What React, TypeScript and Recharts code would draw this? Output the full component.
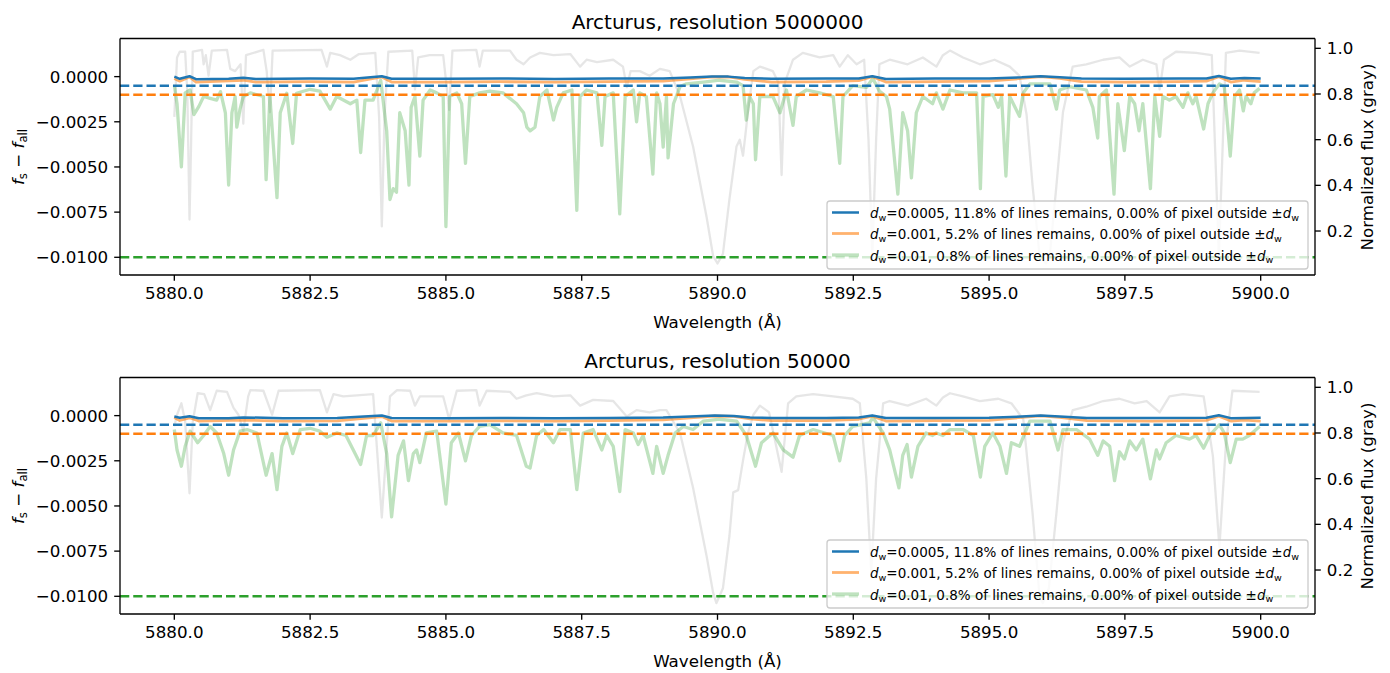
import { LineChart, Line, XAxis, YAxis, ReferenceLine } from "recharts";

type Pt = [number, number];

const xTicks = [5880, 5882.5, 5885, 5887.5, 5890, 5892.5, 5895, 5897.5, 5900];
const leftTicks = [-0.01, -0.0075, -0.005, -0.0025, 0];
const rightTicks = [0.2, 0.4, 0.6, 0.8, 1.0];
const dwLevels = [0.0005, 0.001, 0.01];
const lineShares = ["11.8%", "5.2%", "0.8%"];
const pixelOutside = ["0.00%", "0.00%", "0.00%"];
const resolutions = ["5000000", "50000"];

// normalized flux (gray), resolution 5000000
const topGray: Pt[] = [
  [5880.0, 0.7], [5880.05, 0.96], [5880.1, 0.985], [5880.2, 0.985], [5880.24, 0.8], [5880.28, 0.25], [5880.31, 0.6],
  [5880.34, 0.985], [5880.51, 0.993], [5880.54, 0.93], [5880.58, 0.97], [5880.63, 0.88], [5880.69, 0.99], [5880.97, 0.993],
  [5881.03, 0.91], [5881.12, 0.9], [5881.22, 0.93], [5881.27, 0.67], [5881.32, 0.97], [5881.64, 0.993], [5881.7, 0.9],
  [5881.76, 0.72], [5881.81, 0.99], [5882.71, 0.993], [5882.81, 0.92], [5882.87, 0.98], [5883.05, 0.97], [5883.24, 0.95],
  [5883.4, 0.975], [5883.7, 0.98], [5883.77, 0.7], [5883.82, 0.22], [5883.87, 0.7], [5883.94, 0.985], [5884.38, 0.99],
  [5884.43, 0.82], [5884.49, 0.96], [5884.7, 0.97], [5884.95, 0.97], [5885.06, 0.73], [5885.12, 0.99], [5885.56, 0.993],
  [5885.62, 0.92], [5885.68, 0.99], [5886.18, 0.99], [5886.3, 0.95], [5886.43, 0.93], [5886.55, 0.96], [5886.73, 0.98],
  [5886.98, 0.97], [5887.29, 0.975], [5887.47, 0.92], [5887.59, 0.95], [5887.78, 0.94], [5888.08, 0.95], [5888.26, 0.92],
  [5888.33, 0.83], [5888.4, 0.9], [5888.57, 0.9], [5888.75, 0.88], [5888.94, 0.91], [5889.12, 0.9], [5889.31, 0.79],
  [5889.55, 0.57], [5889.8, 0.26], [5889.92, 0.09], [5890.0, 0.058], [5890.1, 0.1], [5890.22, 0.34], [5890.35, 0.57],
  [5890.41, 0.6], [5890.47, 0.53], [5890.56, 0.72], [5890.66, 0.9], [5890.78, 0.92], [5891.02, 0.9], [5891.12, 0.85],
  [5891.18, 0.445], [5891.24, 0.85], [5891.39, 0.95], [5891.57, 0.98], [5891.88, 0.96], [5892.13, 0.97], [5892.25, 0.92],
  [5892.4, 0.97], [5892.56, 0.93], [5892.7, 0.95], [5892.78, 0.6], [5892.85, 0.088], [5892.92, 0.6], [5892.98, 0.93],
  [5893.17, 0.95], [5893.5, 0.93], [5893.78, 0.96], [5894.03, 0.92], [5894.15, 0.97], [5894.28, 0.99], [5894.52, 0.96],
  [5894.83, 0.93], [5895.1, 0.95], [5895.38, 0.92], [5895.56, 0.88], [5895.69, 0.71], [5895.8, 0.4], [5895.93, 0.09],
  [5896.05, 0.058], [5896.12, 0.1], [5896.24, 0.4], [5896.36, 0.72], [5896.54, 0.92], [5896.79, 0.93], [5897.1, 0.95],
  [5897.4, 0.96], [5897.59, 0.92], [5897.83, 0.95], [5898.08, 0.93], [5898.14, 0.82], [5898.22, 0.95], [5898.44, 0.985],
  [5898.81, 0.98], [5899.1, 0.97], [5899.17, 0.5], [5899.23, 0.09], [5899.29, 0.5], [5899.36, 0.98], [5899.61, 0.99],
  [5899.98, 0.98],
];

// d_w = 0.01, resolution 5000000
const topGreen: Pt[] = [
  [5880.0, -0.00046], [5880.05, -0.0015], [5880.13, -0.005], [5880.2, -0.0009], [5880.29, -0.00074], [5880.36, -0.0021],
  [5880.45, -0.00166], [5880.54, -0.0011], [5880.66, -0.0012], [5880.78, -0.0013], [5880.85, -0.00083], [5880.94, -0.002],
  [5881.0, -0.006], [5881.06, -0.002], [5881.12, -0.0011], [5881.15, -0.0028], [5881.21, -0.0018], [5881.27, -0.0011],
  [5881.4, -0.0009], [5881.64, -0.0011], [5881.69, -0.0057], [5881.76, -0.0011], [5881.89, -0.0067], [5881.95, -0.002],
  [5882.07, -0.00092], [5882.18, -0.0037], [5882.25, -0.00092], [5882.5, -0.0007], [5882.68, -0.0008], [5882.87, -0.0018],
  [5882.99, -0.0011], [5883.24, -0.0015], [5883.36, -0.0013], [5883.43, -0.0042], [5883.51, -0.0013], [5883.66, -0.0013],
  [5883.8, -0.0002], [5883.91, -0.003], [5883.97, -0.0068], [5884.03, -0.0062], [5884.09, -0.0064], [5884.15, -0.002],
  [5884.25, -0.003], [5884.32, -0.006], [5884.36, -0.0017], [5884.43, -0.0011], [5884.52, -0.0044], [5884.58, -0.0013],
  [5884.71, -0.00074], [5884.83, -0.0009], [5884.95, -0.0011], [5885.0, -0.0083], [5885.07, -0.0011], [5885.2, -0.0009],
  [5885.29, -0.0015], [5885.36, -0.0048], [5885.44, -0.0011], [5885.62, -0.0009], [5885.81, -0.0008], [5886.05, -0.0009],
  [5886.3, -0.0015], [5886.43, -0.002], [5886.49, -0.0028], [5886.55, -0.003], [5886.64, -0.0028], [5886.73, -0.0011],
  [5886.86, -0.00074], [5886.98, -0.0024], [5887.04, -0.0017], [5887.16, -0.0009], [5887.32, -0.00074], [5887.41, -0.0074],
  [5887.47, -0.0011], [5887.59, -0.00074], [5887.78, -0.0009], [5887.87, -0.0038], [5887.93, -0.0011], [5888.08, -0.0009],
  [5888.2, -0.0076], [5888.3, -0.0011], [5888.45, -0.00074], [5888.51, -0.0025], [5888.57, -0.0009], [5888.69, -0.0011],
  [5888.81, -0.0054], [5888.88, -0.0009], [5888.94, -0.0015], [5889.0, -0.0039], [5889.06, -0.0011], [5889.09, -0.0045],
  [5889.19, -0.0015], [5889.31, -0.00055], [5889.43, -0.0004], [5889.74, -0.0003], [5890.04, -0.0002], [5890.35, -0.0003],
  [5890.47, -0.0005], [5890.53, -0.0024], [5890.59, -0.0011], [5890.66, -0.0015], [5890.7, -0.0046], [5890.78, -0.0011],
  [5891.02, -0.0011], [5891.15, -0.002], [5891.27, -0.00074], [5891.39, -0.0027], [5891.45, -0.0011], [5891.64, -0.00074],
  [5891.88, -0.0009], [5892.13, -0.0011], [5892.25, -0.0048], [5892.31, -0.0011], [5892.49, -0.0005], [5892.74, -0.0006],
  [5892.86, -0.0001], [5892.98, -0.0008], [5893.11, -0.0011], [5893.17, -0.0018], [5893.32, -0.0065], [5893.41, -0.002],
  [5893.5, -0.003], [5893.57, -0.0056], [5893.66, -0.002], [5893.78, -0.0011], [5893.96, -0.0015], [5894.03, -0.0009],
  [5894.15, -0.0018], [5894.28, -0.00074], [5894.52, -0.0009], [5894.77, -0.0009], [5894.84, -0.0062], [5894.89, -0.0011],
  [5895.07, -0.001], [5895.17, -0.0017], [5895.23, -0.0011], [5895.31, -0.0055], [5895.38, -0.0011], [5895.56, -0.0022],
  [5895.63, -0.0009], [5895.75, -0.0004], [5896.12, -0.0004], [5896.24, -0.0018], [5896.3, -0.00074], [5896.48, -0.00055],
  [5896.79, -0.00074], [5896.91, -0.0017], [5897.0, -0.0034], [5897.03, -0.0011], [5897.16, -0.00074], [5897.3, -0.0065],
  [5897.37, -0.0015], [5897.49, -0.0041], [5897.59, -0.0011], [5897.68, -0.0015], [5897.76, -0.003], [5897.83, -0.0015],
  [5897.97, -0.0062], [5898.05, -0.0011], [5898.14, -0.0033], [5898.2, -0.0011], [5898.32, -0.0013], [5898.44, -0.0011],
  [5898.57, -0.0017], [5898.66, -0.0009], [5898.75, -0.0015], [5898.81, -0.0011], [5898.95, -0.0029], [5899.03, -0.0015],
  [5899.12, -0.0009], [5899.24, -0.0004], [5899.33, -0.00055], [5899.44, -0.0044], [5899.52, -0.0011], [5899.61, -0.00074],
  [5899.68, -0.0019], [5899.73, -0.0011], [5899.82, -0.0015], [5899.88, -0.0009], [5899.98, -0.00065],
];

// d_w = 0.001, resolution 5000000
const topOrange: Pt[] = [
  [5880.0, -0.0001], [5880.1, -0.00025], [5880.28, -0.00002], [5880.4, -0.0003], [5881.27, -0.0002], [5881.5, -0.0003],
  [5882.5, -0.00028], [5883.3, -0.0003], [5883.82, -0.00002], [5884.0, -0.0003], [5885.0, -0.0003], [5886.0, -0.00028],
  [5887.0, -0.0003], [5888.0, -0.00028], [5889.0, -0.00025], [5889.5, -0.00012], [5889.9, -0.00001], [5890.2, -0.00002],
  [5890.5, -0.00015], [5891.0, -0.0003], [5892.0, -0.00028], [5892.6, -0.00022], [5892.85, 0.0], [5893.1, -0.0003],
  [5894.0, -0.00028], [5895.0, -0.00025], [5895.6, -0.0001], [5895.95, 0.0], [5896.3, -0.0001], [5896.7, -0.00028],
  [5897.5, -0.0003], [5898.5, -0.00028], [5899.0, -0.00025], [5899.23, 0.0], [5899.45, -0.0003], [5899.7, -0.0002],
  [5900.0, -0.00028],
];

// d_w = 0.0005, resolution 5000000
const topBlue: Pt[] = [
  [5880.0, 0.0], [5880.1, -0.00012], [5880.28, 0.00002], [5880.4, -0.00014], [5881.0, -0.00012], [5881.27, -0.00006],
  [5881.5, -0.00013], [5882.5, -0.00011], [5883.3, -0.00012], [5883.82, 0.00002], [5884.0, -0.00012], [5885.0, -0.00012],
  [5886.0, -0.0001], [5887.0, -0.00013], [5888.0, -0.00011], [5889.0, -0.0001], [5889.5, -0.00005], [5889.9, 0.00001],
  [5890.2, 0.0], [5890.5, -0.00008], [5891.0, -0.00012], [5892.0, -0.00011], [5892.6, -0.0001], [5892.85, 0.00002],
  [5893.1, -0.00013], [5894.0, -0.00011], [5895.0, -0.0001], [5895.6, -0.00004], [5895.95, 0.00002], [5896.3, -0.00004],
  [5896.7, -0.00011], [5897.5, -0.00012], [5898.5, -0.00011], [5899.0, -0.0001], [5899.23, 0.00003], [5899.45, -0.00012],
  [5899.7, -0.00008], [5900.0, -0.0001],
];

// normalized flux (gray), resolution 50000
const botGray: Pt[] = [
  [5880.0, 0.83], [5880.05, 0.88], [5880.13, 0.93], [5880.2, 0.85], [5880.28, 0.536], [5880.34, 0.85], [5880.43, 0.974],
  [5880.55, 0.97], [5880.66, 0.9], [5880.78, 0.985], [5880.97, 0.98], [5881.09, 0.91], [5881.18, 0.88], [5881.27, 0.81],
  [5881.36, 0.96], [5881.4, 0.988], [5881.64, 0.985], [5881.8, 0.88], [5881.92, 0.985], [5882.68, 0.988], [5882.81, 0.89],
  [5882.93, 0.97], [5883.11, 0.96], [5883.36, 0.965], [5883.66, 0.97], [5883.82, 0.43], [5883.97, 0.96], [5884.1, 0.988],
  [5884.34, 0.985], [5884.43, 0.92], [5884.52, 0.96], [5884.95, 0.96], [5885.06, 0.86], [5885.2, 0.985], [5885.56, 0.988],
  [5885.62, 0.92], [5885.75, 0.985], [5886.18, 0.98], [5886.3, 0.95], [5886.48, 0.965], [5886.67, 0.975], [5886.98, 0.96],
  [5887.29, 0.965], [5887.47, 0.92], [5887.71, 0.945], [5888.08, 0.94], [5888.33, 0.872], [5888.51, 0.9], [5888.75, 0.89],
  [5888.94, 0.9], [5889.06, 0.9], [5889.31, 0.8], [5889.55, 0.56], [5889.8, 0.26], [5889.92, 0.1], [5889.98, 0.055],
  [5890.1, 0.12], [5890.22, 0.35], [5890.29, 0.54], [5890.38, 0.55], [5890.47, 0.68], [5890.56, 0.8], [5890.66, 0.88],
  [5890.78, 0.92], [5890.95, 0.89], [5891.18, 0.63], [5891.3, 0.93], [5891.45, 0.96], [5891.76, 0.97], [5892.13, 0.96],
  [5892.49, 0.95], [5892.62, 0.93], [5892.74, 0.6], [5892.83, 0.19], [5892.92, 0.6], [5893.05, 0.93], [5893.17, 0.94],
  [5893.5, 0.92], [5893.84, 0.95], [5894.03, 0.92], [5894.15, 0.955], [5894.28, 0.974], [5894.52, 0.96], [5894.83, 0.94],
  [5895.17, 0.95], [5895.41, 0.93], [5895.63, 0.86], [5895.8, 0.45], [5895.93, 0.08], [5895.99, 0.055], [5896.1, 0.12],
  [5896.24, 0.45], [5896.36, 0.76], [5896.54, 0.9], [5896.79, 0.915], [5897.1, 0.94], [5897.4, 0.95], [5897.68, 0.93],
  [5897.9, 0.94], [5898.14, 0.89], [5898.32, 0.96], [5898.57, 0.97], [5898.95, 0.96], [5899.12, 0.7], [5899.24, 0.3],
  [5899.36, 0.75], [5899.48, 0.985], [5899.98, 0.98],
];

// d_w = 0.01, resolution 50000
const botGreen: Pt[] = [
  [5880.0, -0.00077], [5880.05, -0.0019], [5880.13, -0.0028], [5880.2, -0.0017], [5880.29, -0.00086], [5880.43, -0.0015],
  [5880.54, -0.0011], [5880.66, -0.0006], [5880.78, -0.00096], [5880.91, -0.0021], [5881.0, -0.0033], [5881.09, -0.0019],
  [5881.21, -0.00086], [5881.34, -0.00077], [5881.52, -0.00096], [5881.69, -0.0033], [5881.8, -0.0021], [5881.89, -0.0041],
  [5881.98, -0.0017], [5882.07, -0.00096], [5882.18, -0.0021], [5882.32, -0.00077], [5882.5, -0.0007], [5882.68, -0.00086],
  [5882.81, -0.0012], [5882.99, -0.00096], [5883.16, -0.0011], [5883.43, -0.0027], [5883.54, -0.0011], [5883.66, -0.0011],
  [5883.8, -0.0004], [5883.91, -0.0021], [5884.0, -0.0056], [5884.12, -0.0022], [5884.22, -0.0014], [5884.31, -0.0036],
  [5884.4, -0.0021], [5884.46, -0.0019], [5884.52, -0.0026], [5884.64, -0.00096], [5884.83, -0.00086], [5885.0, -0.0049],
  [5885.1, -0.0015], [5885.23, -0.00096], [5885.36, -0.0025], [5885.47, -0.0011], [5885.62, -0.0006], [5885.81, -0.0005],
  [5886.05, -0.00096], [5886.3, -0.0011], [5886.48, -0.0028], [5886.55, -0.0029], [5886.67, -0.0011], [5886.8, -0.00077],
  [5886.98, -0.0015], [5887.1, -0.00077], [5887.29, -0.00077], [5887.41, -0.0041], [5887.53, -0.00096], [5887.71, -0.00077],
  [5887.87, -0.0019], [5887.96, -0.0011], [5888.08, -0.0017], [5888.2, -0.0042], [5888.3, -0.00077], [5888.45, -0.00096],
  [5888.54, -0.0016], [5888.63, -0.0011], [5888.81, -0.0032], [5888.88, -0.0017], [5889.0, -0.0032], [5889.09, -0.0022],
  [5889.22, -0.00096], [5889.37, -0.0006], [5889.55, -0.00077], [5889.74, -0.0003], [5890.04, -0.0002], [5890.35, -0.0003],
  [5890.53, -0.0011], [5890.7, -0.0028], [5890.81, -0.0015], [5891.02, -0.00096], [5891.21, -0.0019], [5891.39, -0.0023],
  [5891.51, -0.0011], [5891.76, -0.00077], [5892.13, -0.0011], [5892.25, -0.0025], [5892.34, -0.0011], [5892.49, -0.0006],
  [5892.8, -0.0004], [5892.86, -0.0001], [5893.05, -0.00096], [5893.17, -0.0019], [5893.34, -0.004], [5893.41, -0.0022],
  [5893.49, -0.0016], [5893.57, -0.0034], [5893.69, -0.0017], [5893.84, -0.00096], [5893.96, -0.0011], [5894.03, -0.00096],
  [5894.15, -0.0011], [5894.28, -0.00077], [5894.52, -0.00077], [5894.71, -0.0011], [5894.84, -0.0034], [5894.92, -0.0017],
  [5895.07, -0.00096], [5895.2, -0.0017], [5895.32, -0.0032], [5895.41, -0.0015], [5895.56, -0.0017], [5895.66, -0.00096],
  [5895.75, -0.0003], [5896.12, -0.0003], [5896.27, -0.0019], [5896.36, -0.00077], [5896.61, -0.00077], [5896.85, -0.0013],
  [5897.0, -0.0022], [5897.1, -0.0014], [5897.22, -0.0017], [5897.31, -0.0036], [5897.4, -0.002], [5897.49, -0.0024],
  [5897.59, -0.0014], [5897.71, -0.0019], [5897.83, -0.0013], [5897.97, -0.0035], [5898.08, -0.0019], [5898.14, -0.0024],
  [5898.26, -0.0015], [5898.44, -0.0011], [5898.69, -0.0013], [5898.81, -0.0011], [5898.95, -0.0018], [5899.06, -0.0011],
  [5899.24, -0.0005], [5899.33, -0.00096], [5899.44, -0.0026], [5899.55, -0.0013], [5899.67, -0.0013], [5899.79, -0.0011],
  [5899.88, -0.00086], [5899.98, -0.0006],
];

// d_w = 0.001, resolution 50000
const botOrange: Pt[] = [
  [5880.0, -0.0001], [5880.1, -0.00027], [5880.28, -0.00012], [5880.45, -0.0003], [5881.27, -0.00025], [5882.0, -0.0003],
  [5883.0, -0.00029], [5883.82, -0.00005], [5884.0, -0.0003], [5885.0, -0.0003], [5886.0, -0.00029], [5887.0, -0.0003],
  [5888.0, -0.00028], [5889.0, -0.00024], [5889.5, -0.00012], [5889.95, -0.00002], [5890.3, -0.00004], [5890.6, -0.00018],
  [5891.0, -0.00028], [5892.0, -0.00028], [5892.6, -0.0002], [5892.85, -0.00003], [5893.1, -0.0003], [5894.0, -0.00028],
  [5895.0, -0.00026], [5895.6, -0.0001], [5895.95, -0.00001], [5896.3, -0.0001], [5896.8, -0.00028], [5898.0, -0.0003],
  [5899.0, -0.00026], [5899.23, -0.00003], [5899.45, -0.0003], [5899.7, -0.00025], [5900.0, -0.0003],
];

// d_w = 0.0005, resolution 50000
const botBlue: Pt[] = [
  [5880.0, -0.00005], [5880.1, -0.00012], [5880.28, -0.00004], [5880.45, -0.00015], [5881.0, -0.00014], [5881.27, -0.0001],
  [5882.0, -0.00014], [5883.0, -0.00013], [5883.82, 0.00001], [5884.0, -0.00013], [5885.0, -0.00014], [5886.0, -0.00013],
  [5887.0, -0.00014], [5888.0, -0.00013], [5889.0, -0.00011], [5889.5, -0.00005], [5889.95, 0.0], [5890.3, -0.00002],
  [5890.6, -0.0001], [5891.0, -0.00013], [5892.0, -0.00013], [5892.6, -0.0001], [5892.85, 0.00001], [5893.1, -0.00013],
  [5894.0, -0.00013], [5895.0, -0.00012], [5895.6, -0.00005], [5895.95, 0.0], [5896.3, -0.00005], [5896.8, -0.00013],
  [5898.0, -0.00013], [5899.0, -0.00012], [5899.23, 0.00002], [5899.45, -0.00014], [5900.0, -0.00012],
];

const BLUE = "#1f77b4";
const ORANGE = "#ff7f0e";
const GREEN = "#2ca02c";
const FONT = "DejaVu Sans";
const LEFT_DOMAIN: [number, number] = [-0.01098, 0.00211];
const RIGHT_DOMAIN: [number, number] = [0.0074, 1.043];
const PANEL_SHIFT = 339;

const toXY = (pts: Pt[]) => pts.map(([x, y]) => ({ x, y }));
const fmtLeft = (v: number) => {
  const s = Math.abs(v).toFixed(4);
  return v < -1e-12 ? "\u2212" + s : s;
};

const tickStyle = { fill: "#000", fontSize: 16.7, fontFamily: FONT };
const spine = { stroke: "#000", strokeWidth: 1.33 };

interface PanelProps {
  top: number;
  gray: Pt[];
  green: Pt[];
  orange: Pt[];
  blue: Pt[];
}

const Panel = ({ top, gray, green, orange, blue }: PanelProps) => (
  <div style={{ position: "absolute", left: 0, top }}>
    <LineChart width={1390} height={330} margin={{ top: 38.5, right: 0, bottom: 15, left: 0 }}>
      <XAxis
        xAxisId="x"
        type="number"
        dataKey="x"
        domain={[5879, 5901]}
        ticks={xTicks}
        interval={0}
        allowDataOverflow
        tickFormatter={(v: number) => v.toFixed(1)}
        height={40}
        tick={tickStyle}
        tickLine={spine}
        axisLine={spine}
        tickSize={5.8}
        tickMargin={6}
      />
      <YAxis
        yAxisId="l"
        type="number"
        domain={LEFT_DOMAIN}
        ticks={leftTicks}
        interval={0}
        allowDataOverflow
        tickFormatter={fmtLeft}
        width={120}
        tick={tickStyle}
        tickLine={spine}
        axisLine={spine}
        tickSize={5.8}
        tickMargin={6}
      />
      <YAxis
        yAxisId="r"
        orientation="right"
        type="number"
        domain={RIGHT_DOMAIN}
        ticks={rightTicks}
        interval={0}
        allowDataOverflow
        tickFormatter={(v: number) => v.toFixed(1)}
        width={75}
        tick={tickStyle}
        tickLine={spine}
        axisLine={spine}
        tickSize={5.8}
        tickMargin={6}
      />
      <Line data={toXY(gray)} xAxisId="x" yAxisId="r" dataKey="y" type="linear" stroke="#808080" strokeOpacity={0.2}
        strokeWidth={2.3} strokeLinejoin="round" dot={false} activeDot={false} isAnimationActive={false} />
      <Line data={toXY(green)} xAxisId="x" yAxisId="l" dataKey="y" type="linear" stroke={GREEN} strokeOpacity={0.3}
        strokeWidth={3.3} strokeLinejoin="round" dot={false} activeDot={false} isAnimationActive={false} />
      <Line data={toXY(orange)} xAxisId="x" yAxisId="l" dataKey="y" type="linear" stroke={ORANGE} strokeOpacity={0.6}
        strokeWidth={2.8} strokeLinejoin="round" dot={false} activeDot={false} isAnimationActive={false} />
      <Line data={toXY(blue)} xAxisId="x" yAxisId="l" dataKey="y" type="linear" stroke={BLUE}
        strokeWidth={2.5} strokeLinejoin="round" dot={false} activeDot={false} isAnimationActive={false} />
      {dwLevels.map((d, i) => (
        <ReferenceLine key={d} xAxisId="x" yAxisId="l" y={-d} stroke={[BLUE, ORANGE, GREEN][i]}
          strokeWidth={2.5} strokeDasharray="9.25 4" />
      ))}
      <ReferenceLine xAxisId="x" yAxisId="l" y={LEFT_DOMAIN[1]} stroke="#000" strokeWidth={1.33} />
    </LineChart>
  </div>
);

const Legend = ({ dy }: { dy: number }) => {
  const rows = [
    { color: BLUE, opacity: 1, width: 2.5 },
    { color: ORANGE, opacity: 0.6, width: 2.8 },
    { color: GREEN, opacity: 0.3, width: 3.3 },
  ];
  const baselines = [218, 239, 260.5];
  return (
    <g>
      <rect x={827} y={201 + dy} width={481} height={68} rx={3} fill="#fff" fillOpacity={0.8} stroke="#cccccc" strokeWidth={1.33} />
      {rows.map((r, i) => (
        <g key={i}>
          <line x1={832} x2={859} y1={baselines[i] - 5.5 + dy} y2={baselines[i] - 5.5 + dy} stroke={r.color}
            strokeOpacity={r.opacity} strokeWidth={r.width} />
          <text x={870} y={baselines[i] + dy} fontSize={13.5} fontFamily={FONT} fill="#000">
            <tspan fontStyle="italic">d</tspan>
            <tspan fontSize={9.5} dy={2.5}>w</tspan>
            <tspan dy={-2.5}>{`=${dwLevels[i]}, ${lineShares[i]} of lines remains, ${pixelOutside[i]} of pixel outside \u00b1`}</tspan>
            <tspan fontStyle="italic">d</tspan>
            <tspan fontSize={9.5} dy={2.5}>w</tspan>
          </text>
        </g>
      ))}
    </g>
  );
};

const Labels = ({ dy, res }: { dy: number; res: string }) => (
  <g fontFamily={FONT} fill="#000">
    <text x={717.5} y={29 + dy} fontSize={20} textAnchor="middle">{`Arcturus, resolution ${res}`}</text>
    <text x={717.5} y={328 + dy} fontSize={16.7} textAnchor="middle">Wavelength (Å)</text>
    <text transform="rotate(-90)" x={-(157 + dy)} y={23.5} fontSize={16.7} textAnchor="middle">
      <tspan fontStyle="italic">f</tspan>
      <tspan fontSize={11.7} dy={3}>s</tspan>
      <tspan dy={-3}>{" \u2212 "}</tspan>
      <tspan fontStyle="italic">f</tspan>
      <tspan fontSize={11.7} dy={3}>all</tspan>
    </text>
    <text transform="rotate(-90)" x={-(157 + dy)} y={1373} fontSize={16.7} textAnchor="middle">Normalized flux (gray)</text>
  </g>
);

export default function App() {
  return (
    <div style={{ position: "absolute", left: 0, top: 0, width: 1390, height: 673, background: "#fff", overflow: "hidden" }}>
      <Panel top={0} gray={topGray} green={topGreen} orange={topOrange} blue={topBlue} />
      <Panel top={PANEL_SHIFT} gray={botGray} green={botGreen} orange={botOrange} blue={botBlue} />
      <svg width={1390} height={673} style={{ position: "absolute", left: 0, top: 0, pointerEvents: "none" }}>
        {resolutions.map((res, i) => (
          <g key={res}>
            <Labels dy={i * PANEL_SHIFT} res={res} />
            <Legend dy={i * PANEL_SHIFT} />
          </g>
        ))}
      </svg>
    </div>
  );
}
